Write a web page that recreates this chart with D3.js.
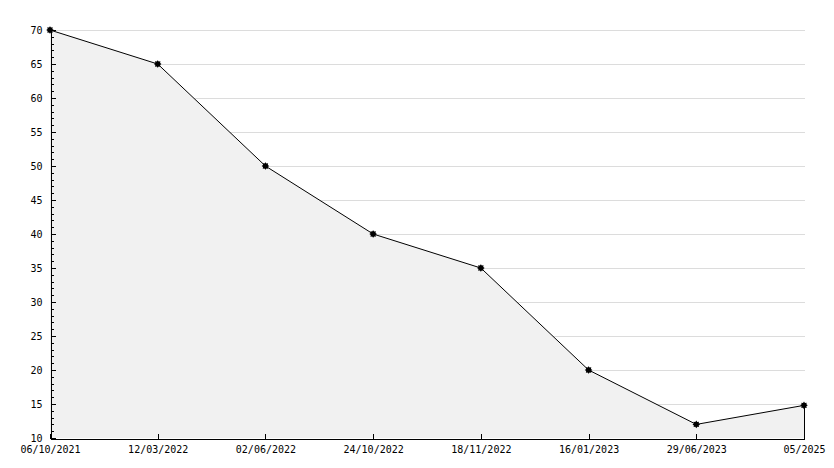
<!DOCTYPE html>
<html>
<head>
<meta charset="utf-8">
<script src="https://cdn.jsdelivr.net/npm/d3@7"></script>
<style>
html,body{margin:0;padding:0;background:#fff;}
svg{display:block;}
text{font-family:"DejaVu Sans Mono",monospace;font-size:10px;fill:#000;}
</style>
</head>
<body>
<script>
const categories = ["06/10/2021","12/03/2022","02/06/2022","24/10/2022","18/11/2022","16/01/2023","29/06/2023","05/2025"];
const values = [70, 65, 50, 40, 35, 20, 12, 14.8];
const yTicks = [10,15,20,25,30,35,40,45,50,55,60,65,70];

const W = 834, H = 468;
const svg = d3.select("body").append("svg").attr("width", W).attr("height", H);

const x = d3.scalePoint().domain(categories).range([50, 804]);
const y = d3.scaleLinear().domain([10, 70]).range([438, 30]);

// grid
svg.append("g").selectAll("line").data(yTicks.slice(1)).join("line")
  .attr("x1", 50).attr("x2", 805)
  .attr("y1", d => Math.round(y(d)) + 0.5).attr("y2", d => Math.round(y(d)) + 0.5)
  .attr("stroke", "#dcdcdc").attr("stroke-width", 1);

const data = categories.map((c, i) => ({c, v: values[i]}));

// area
const area = d3.area().x(d => x(d.c)).y0(y(10)).y1(d => y(d.v));
svg.append("path").datum(data).attr("d", area).attr("fill", "#f1f1f1");

// right edge of area
const last = data[data.length - 1];
svg.append("line")
  .attr("x1", Math.round(x(last.c)) + 0.5).attr("x2", Math.round(x(last.c)) + 0.5)
  .attr("y1", y(last.v)).attr("y2", y(10))
  .attr("stroke", "#000").attr("shape-rendering", "crispEdges");

// line
const line = d3.line().x(d => x(d.c)).y(d => y(d.v));
svg.append("path").datum(data).attr("d", line)
  .attr("fill", "none").attr("stroke", "#000").attr("stroke-width", 1);

// y minor ticks
const minor = d3.range(10, 71, 1);
svg.append("g").attr("transform", "translate(50.5,0)")
  .call(d3.axisLeft(y).tickValues(minor).tickSize(-3).tickSizeOuter(0).tickFormat(""))
  .call(g => g.select(".domain").remove())
  .call(g => g.selectAll("line").attr("shape-rendering", "crispEdges"));

// y axis
svg.append("g").attr("transform", "translate(50.5,0)")
  .call(d3.axisLeft(y).tickValues(yTicks).tickSize(-5).tickSizeOuter(0).tickPadding(8))
  .call(g => g.select(".domain").attr("shape-rendering", "crispEdges"))
  .call(g => g.selectAll("line").attr("shape-rendering", "crispEdges"))
  .call(g => g.selectAll("text").attr("font-family", "DejaVu Sans Mono").attr("font-size", 10));

// x axis
svg.append("g").attr("transform", "translate(0,438.5)")
  .call(d3.axisBottom(x).tickSize(-5).tickSizeOuter(0).tickPadding(7))
  .call(g => g.select(".domain").attr("shape-rendering", "crispEdges"))
  .call(g => g.selectAll("line").attr("shape-rendering", "crispEdges"))
  .call(g => g.selectAll("text").attr("font-family", "DejaVu Sans Mono").attr("font-size", 10));

// markers: small 8-point filled star
const starPath = (() => {
  const pts = [];
  for (let i = 0; i < 16; i++) {
    const r = i % 2 === 0 ? 3.8 : 2.6;
    const a = i * Math.PI / 8;
    pts.push([r * Math.cos(a), r * Math.sin(a)]);
  }
  return "M" + pts.map(p => p.join(",")).join("L") + "Z";
})();
svg.append("g").selectAll("path").data(data).join("path")
  .attr("transform", d => `translate(${x(d.c)},${y(d.v)})`)
  .attr("d", starPath)
  .attr("fill", "#000");
</script>
</body>
</html>
